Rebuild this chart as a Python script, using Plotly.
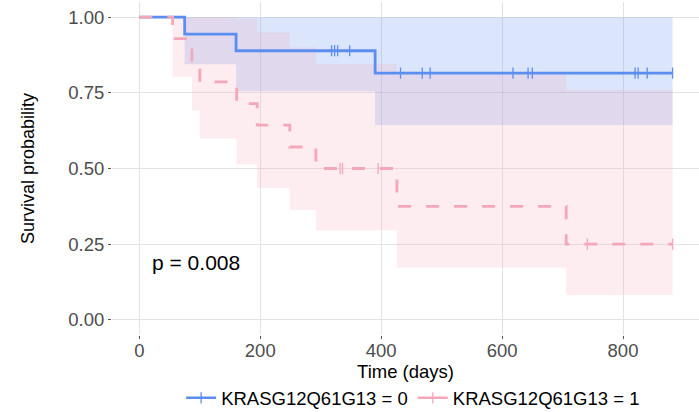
import numpy as np
import plotly.graph_objects as go

# ---- data ----
group_names = ["KRASG12Q61G13 = 0", "KRASG12Q61G13 = 1"]

times0 = [0, 75, 160, 390, 882]
surv0 = [1.0, 0.944, 0.889, 0.815, 0.815]
lower0 = [1.0, 0.844, 0.755, 0.644, 0.644]
upper0 = [1.0, 1.0, 1.0, 1.0, 1.0]
censor0 = [318, 323, 328, 348, 432, 468, 481, 618, 643, 650, 820, 825, 840, 882]

times1 = [0, 55, 87, 100, 161, 195, 249, 292, 426, 706, 882]
surv1 = [1.0, 0.929, 0.857, 0.786, 0.714, 0.643, 0.571, 0.5, 0.375, 0.25, 0.25]
lower1 = [1.0, 0.803, 0.692, 0.598, 0.513, 0.435, 0.363, 0.296, 0.173, 0.082, 0.082]
upper1 = [1.0, 1.0, 1.0, 1.0, 0.995, 0.95, 0.90, 0.845, 0.81, 0.76, 0.76]
censor1 = [332, 336, 395, 741, 882]

x_ticks = [0, 200, 400, 600, 800]
y_ticks = [0.0, 0.25, 0.5, 0.75, 1.0]
p_text = "p = 0.008"

# ---- styling ----
line_colors = ["#5B8EF0", "#F4A7B9"]
fill_colors = ["rgba(91,142,240,0.22)", "rgba(244,167,185,0.21)"]
dashes = ["solid", "13px,15px"]
FONT = "Liberation Sans, Arial, sans-serif"


def step_value(times, surv, t):
    idx = np.searchsorted(np.asarray(times), t, side="right") - 1
    return np.asarray(surv)[idx]


fig = go.Figure()

groups = [
    (times0, surv0, lower0, upper0, censor0),
    (times1, surv1, lower1, upper1, censor1),
]

# confidence bands
for i, (t, s, lo, up, c) in enumerate(groups):
    fig.add_trace(go.Scatter(x=t, y=up, mode="lines", line=dict(width=0, shape="hv"),
                             hoverinfo="skip", showlegend=False))
    fig.add_trace(go.Scatter(x=t, y=lo, mode="lines", line=dict(width=0, shape="hv"),
                             fill="tonexty", fillcolor=fill_colors[i],
                             hoverinfo="skip", showlegend=False))

# survival curves + censor marks
for i, (t, s, lo, up, c) in enumerate(groups):
    fig.add_trace(go.Scatter(x=t, y=s, mode="lines",
                             line=dict(color=line_colors[i], width=2.8, shape="hv", dash=dashes[i]),
                             name=group_names[i], showlegend=False))
    cy = [step_value(t, s, ct) for ct in c]
    fig.add_trace(go.Scatter(x=c, y=cy, mode="markers",
                             marker=dict(symbol="line-ns", size=8,
                                         line=dict(color=line_colors[i], width=1.3)),
                             showlegend=False, hoverinfo="skip"))

# legend entries
for i in range(2):
    fig.add_trace(go.Scatter(x=[None], y=[None], mode="lines+markers",
                             name=group_names[i],
                             line=dict(color=line_colors[i], width=2.6),
                             marker=dict(symbol="line-ns", size=8,
                                         line=dict(color=line_colors[i], width=1.3))))

fig.add_annotation(x=17, y=0.188, xref="x", yref="y", text=p_text, showarrow=False,
                   xanchor="left", yanchor="middle",
                   font=dict(family=FONT, size=21, color="black"))

fig.update_layout(
    width=699, height=412,
    margin=dict(l=112, r=0, t=2, b=77, autoexpand=False),
    paper_bgcolor="white", plot_bgcolor="white",
    font=dict(family=FONT, color="black"),
    legend=dict(orientation="h", x=0.513, xanchor="center", y=-0.19, yanchor="middle",
                font=dict(family=FONT, size=18.5, color="black"), traceorder="normal",
                itemwidth=30, tracegroupgap=0, bgcolor="rgba(0,0,0,0)"),
    showlegend=True,
)

fig.update_xaxes(
    range=[-45.2, 925.7], tickvals=x_ticks, ticktext=[str(v) for v in x_ticks],
    showgrid=True, gridcolor="#E3E3E3", gridwidth=1, zeroline=False, automargin=False,
    ticks="outside", ticklen=3, tickcolor="#555555", tickwidth=1, ticklabelstandoff=-4,
    tickfont=dict(family=FONT, size=18.5, color="#4D4D4D"),
    title=dict(text="Time (days)", font=dict(family=FONT, size=18.5, color="black"), standoff=2),
    showline=False,
)
fig.update_yaxes(
    range=[-0.05, 1.05], tickvals=y_ticks, ticktext=["%.2f" % v for v in y_ticks],
    showgrid=True, gridcolor="#E3E3E3", gridwidth=1, zeroline=False, automargin=False,
    ticks="outside", ticklen=3, tickcolor="#555555", tickwidth=1,
    tickfont=dict(family=FONT, size=18.5, color="#4D4D4D"),
    title=dict(text="Survival probability", font=dict(family=FONT, size=18, color="black"), standoff=28),
    showline=False,
)

fig.write_html("out.html", config={"displayModeBar": False},
               post_script="document.body.style.margin='0';")
